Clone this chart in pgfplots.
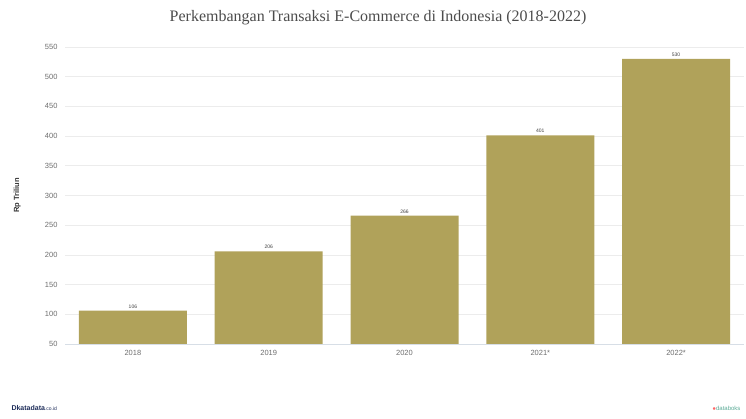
\documentclass[border=0pt]{standalone}
\usepackage{pgfplots}
\pgfplotsset{compat=1.18}
\usepackage{fontspec}
\setmainfont{Liberation Sans}
\newfontfamily\titlefont{Liberation Serif}
\definecolor{barc}{RGB}{176,162,90}
\definecolor{tickc}{RGB}{110,110,110}
\definecolor{gridc}{RGB}{236,236,236}
\begin{document}
\begin{tikzpicture}[x=1pt,y=1pt]
\useasboundingbox (0,0) rectangle (746,418);
\begin{axis}[
  at={(65pt,74pt)}, anchor=south west,
  scale only axis, width=679pt, height=303pt,
  xmin=-0.5, xmax=4.5, ymin=50, ymax=560,
  axis line style={draw=none},
  axis x line*=bottom,
  xtick={0,1,2,3,4},
  xticklabels={2018,2019,2020,2021*,2022*},
  ytick={50,100,...,550},
  major tick length=0pt,
  ymajorgrids, grid style={gridc, line width=0.6pt},
  tick label style={font=\fontsize{7.5}{9}\selectfont, text=tickc},
  /pgf/number format/assume math mode=true,
  yticklabel style={xshift=-4pt},
  xticklabel style={yshift=-3pt},
  ylabel={\textbf{Rp Triliun}},
  ylabel style={font=\fontsize{7.5}{8}\selectfont, text=black!80, at={(axis description cs:-0.060,0.49)}},
  ybar, bar width=108pt,
  nodes near coords,
  nodes near coords style={font=\fontsize{5}{6}\selectfont, text=black!75, yshift=-1pt},
  clip=false,
]
\addplot[fill=barc, draw=none] coordinates {(0,106) (1,206) (2,266) (3,401) (4,530)};
\draw[color={rgb,255:red,215;green,222;blue,230}, line width=0.7pt] (axis cs:-0.5,50) -- (axis cs:4.5,50);
\end{axis}
\node[font=\titlefont\fontsize{16}{18}\selectfont, text=black!70] at (378,400) {Perkembangan Transaksi E-Commerce di Indonesia (2018-2022)};
\node[font=\bfseries\fontsize{7}{8}\selectfont, text={rgb,255:red,30;green,45;blue,90}, anchor=west] at (8,10) {Dkatadata\tiny\normalfont .co.id};
\node[font=\fontsize{6}{7}\selectfont, text={rgb,255:red,90;green,170;blue,150}, anchor=east] at (744,10) {\textcolor{red!60}{$\bullet$}databoks};
\end{tikzpicture}
\end{document}
